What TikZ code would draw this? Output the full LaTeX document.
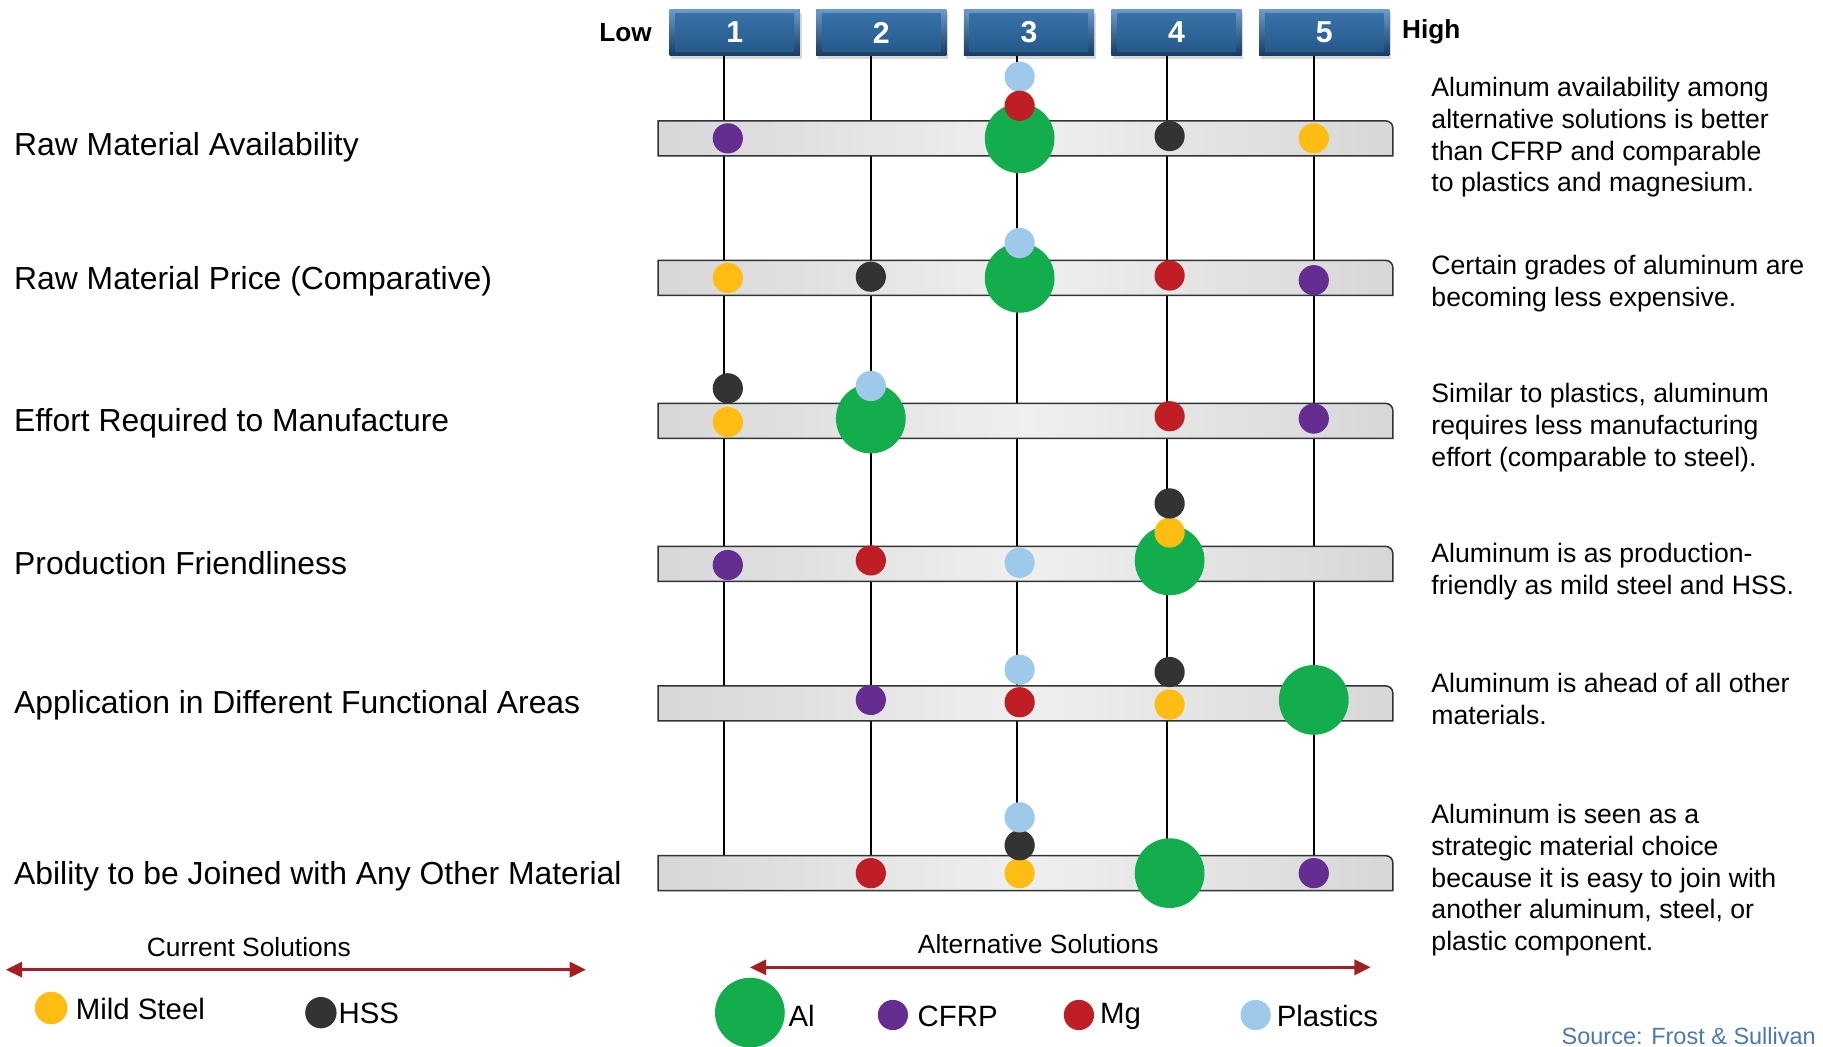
\documentclass[tikz,border=0pt]{standalone}
\usepackage{fontspec}
\setmainfont{Liberation Sans}
\usetikzlibrary{arrows.meta,shadows,calc}

\definecolor{msteel}{HTML}{FDBD13}
\definecolor{hss}{HTML}{333333}
\definecolor{alu}{HTML}{14AD4D}
\definecolor{cfrp}{HTML}{662D91}
\definecolor{mg}{HTML}{BE1E24}
\definecolor{plast}{HTML}{9FC9EB}
\definecolor{arrowred}{HTML}{A51E22}
\definecolor{srcblue}{HTML}{4A78B0}
\definecolor{hdrlight}{HTML}{6C9BCB}
\definecolor{hdrdark}{HTML}{163B60}
\definecolor{facetop}{HTML}{3A74A9}
\definecolor{facebot}{HTML}{24578A}
\definecolor{baredge}{HTML}{D7D7D7}
\definecolor{barmid}{HTML}{EEEFEE}

\begin{document}
\begin{tikzpicture}[x=1pt,y=-1pt,
  hdrbox/.style={minimum width=112pt, minimum height=40pt, inner sep=0pt,
    top color=hdrlight, bottom color=hdrdark,
    drop shadow={shadow xshift=1.5pt, shadow yshift=-3pt, opacity=0.3},
    font=\fontsize{26}{30}\selectfont\bfseries, text=white,
    path picture={\fill[top color=facetop, bottom color=facebot]
      ([shift={(5pt,-4pt)}]path picture bounding box.north west) rectangle
      ([shift={(-5pt,4pt)}]path picture bounding box.south east);}},
  scalelbl/.style={font=\fontsize{22.5}{26}\selectfont\bfseries},
  rowlbl/.style={anchor=west, inner sep=0pt, font=\fontsize{27.4}{32}\selectfont},
  note/.style={anchor=west, align=left, inner sep=0pt, font=\fontsize{22.9}{27.4}\selectfont},
  bar/.style={draw=black!80, line width=1.3pt, left color=baredge, right color=baredge, middle color=barmid},
  gridline/.style={line width=1.7pt, black},
  dot/.style={circle, inner sep=0pt, minimum size=26pt, fill=#1},
  big/.style={circle, inner sep=0pt, minimum size=60pt, fill=alu},
  legtxt/.style={anchor=west, inner sep=0pt, font=\fontsize{25.3}{30}\selectfont},
  grouptxt/.style={inner sep=0pt, font=\fontsize{22.7}{27}\selectfont},
  span/.style={draw=arrowred, line width=2.6pt,
    {Triangle[length=14pt,width=13pt]}-{Triangle[length=14pt,width=13pt]}}
]
\useasboundingbox (0,0) rectangle (1568,900);

% scale header
\node[scalelbl] (low) at (538,28) {Low};
\node[scalelbl] (high) at (1231,27) {High};
\node[hdrbox] (h1) at (632,28) {1};
\node[hdrbox] (h2) at (758,28) {2};
\node[hdrbox] (h3) at (885,28) {3};
\node[hdrbox] (h4) at (1012,28) {4};
\node[hdrbox] (h5) at (1139,28) {5};

% vertical score lines, from each header box down to the last bar
\foreach \i/\x in {1/623,2/749,3/875,4/1004,5/1130}{
  \coordinate (v\i top) at (\x,48);
  \coordinate (v\i bot) at (\x,736);
  \draw[gridline] (v\i top) -- (v\i bot);
}

% horizontal criterion bars (rounded top-right corner)
\foreach \y in {119,239,362,485,605,751}{
  \draw[bar] (566,\y+15) -- (566,\y-15) -- (1192,\y-15) arc(-90:0:6) -- (1198,\y+15) -- cycle;
}

% criterion labels
\node[rowlbl] (c1) at (12,127) {Raw Material Availability};
\node[rowlbl] (c2) at (12,242) {Raw Material Price (Comparative)};
\node[rowlbl] (c3) at (12,364) {Effort Required to Manufacture};
\node[rowlbl] (c4) at (12,484) {Production Friendliness};
\node[rowlbl] (c5) at (12,607) {Application in Different Functional Areas};
\node[rowlbl] (c6) at (12,754) {Ability to be Joined with Any Other Material};

% row 1: raw material availability
\node[dot=cfrp] (a1) at (626,119) {};
\node[big] (a2) at (877,119) {};
\node[dot=plast] (a3) at (877,66) {};
\node[dot=mg] (a4) at (877,91) {};
\node[dot=hss] (a5) at (1006,117) {};
\node[dot=msteel] (a6) at (1130,119) {};

% row 2: raw material price
\node[dot=msteel] (b1) at (626,239) {};
\node[dot=hss] (b2) at (749,238) {};
\node[big] (b3) at (877,239) {};
\node[dot=plast] (b4) at (877,209) {};
\node[dot=mg] (b5) at (1006,237) {};
\node[dot=cfrp] (b6) at (1130,241) {};

% row 3: manufacturing effort
\node[dot=msteel] (d1) at (626,363) {};
\node[dot=hss] (d2) at (626,334) {};
\node[big] (d3) at (749,360) {};
\node[dot=plast] (d4) at (749,332) {};
\node[dot=mg] (d5) at (1006,358) {};
\node[dot=cfrp] (d6) at (1130,360) {};

% row 4: production friendliness
\node[dot=cfrp] (e1) at (626,486) {};
\node[dot=mg] (e2) at (749,482) {};
\node[dot=plast] (e3) at (877,484) {};
\node[big] (e4) at (1006,482) {};
\node[dot=msteel] (e5) at (1006,458) {};
\node[dot=hss] (e6) at (1006,433) {};

% row 5: functional areas
\node[dot=cfrp] (f1) at (749,602) {};
\node[dot=plast] (f2) at (877,576) {};
\node[dot=mg] (f3) at (877,604) {};
\node[dot=hss] (f4) at (1006,578) {};
\node[dot=msteel] (f5) at (1006,606) {};
\node[big] (f6) at (1130,602) {};

% row 6: joining
\node[dot=mg] (g1) at (749,751) {};
\node[dot=msteel] (g2) at (877,751) {};
\node[dot=hss] (g3) at (877,727) {};
\node[dot=plast] (g4) at (877,703) {};
\node[big] (g5) at (1006,751) {};
\node[dot=cfrp] (g6) at (1130,751) {};

% commentary
\node[note] (n1) at (1231,118) {Aluminum availability among\\alternative solutions is better\\than CFRP and comparable\\to plastics and magnesium.};
\node[note] (n2) at (1231,244) {Certain grades of aluminum are\\becoming less expensive.};
\node[note] (n3) at (1231,368) {Similar to plastics, aluminum\\requires less manufacturing\\effort (comparable to steel).};
\node[note] (n4) at (1231,492) {Aluminum is as production-\\friendly as mild steel and HSS.};
\node[note] (n5) at (1231,601) {Aluminum is ahead of all other\\materials.};
\node[note] (n6) at (1231,757) {Aluminum is seen as a\\strategic material choice\\because it is easy to join with\\another aluminum, steel, or\\plastic component.};

% legend: current solutions
\node[grouptxt] (cur) at (214,815) {Current Solutions};
\coordinate (curL) at (5,834);
\coordinate (curR) at (504,834);
\draw[span] (curL) -- (curR);
\node[dot=msteel, minimum size=28pt] (lms) at (44,867) {};
\node[legtxt] (tms) at (65,868) {Mild Steel};
\node[dot=hss, minimum size=27pt] (lhss) at (276,871) {};
\node[legtxt] (thss) at (291,872) {HSS};

% legend: alternative solutions
\node[grouptxt] (alt) at (893,812) {Alternative Solutions};
\coordinate (altL) at (645,832);
\coordinate (altR) at (1179,832);
\draw[span] (altL) -- (altR);
\node[big] (lal) at (645,871) {};
\node[legtxt] (tal) at (678,874) {Al};
\node[dot=cfrp] (lcf) at (768,873) {};
\node[legtxt] (tcf) at (789,874) {CFRP};
\node[dot=mg] (lmg) at (928,873) {};
\node[legtxt] (tmg) at (946,874) {Mg};
\node[dot=plast] (lpl) at (1080,873) {};
\node[legtxt] (tpl) at (1098,874) {Plastics};

% source line
\node[anchor=west, inner sep=0pt, text=srcblue, font=\fontsize{20.2}{24}\selectfont] (src) at (1343,891) {Source: Frost \& Sullivan};
\end{tikzpicture}
\end{document}
